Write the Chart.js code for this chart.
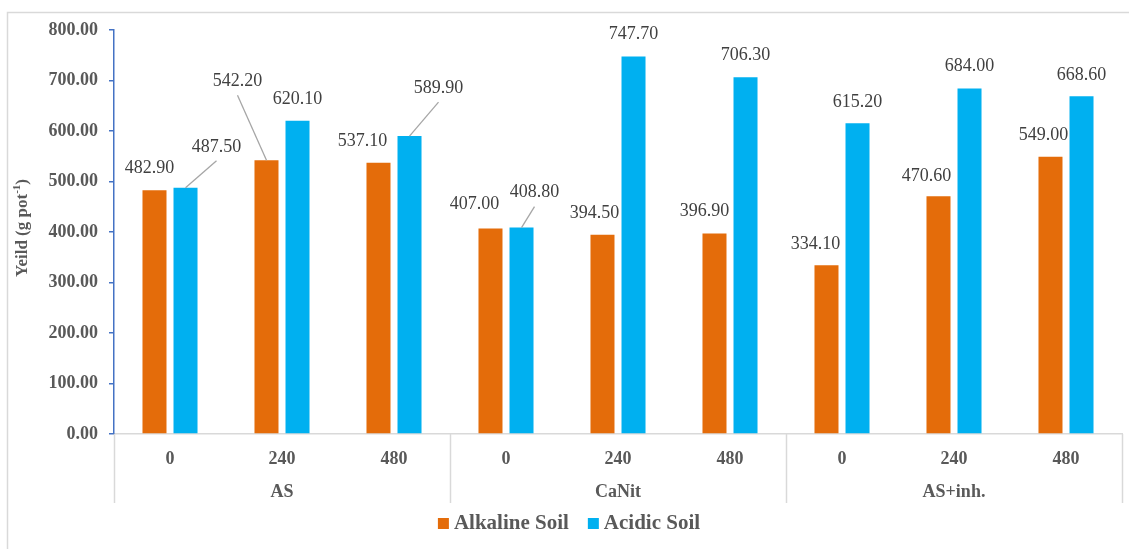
<!DOCTYPE html>
<html>
<head>
<meta charset="utf-8">
<script src="https://cdn.jsdelivr.net/npm/chart.js@4.4.1/dist/chart.umd.min.js"></script>
<style>
  body { margin: 0; background: #fff; }
  #wrap { width: 1129px; height: 549px; }
</style>
</head>
<body>
<div id="wrap"><canvas id="yieldChart"></canvas></div>
<script>
// data
const groups = ['AS', 'CaNit', 'AS+inh.'];
const doses = ['0', '240', '480'];
const alkalineSoil = [482.9, 542.2, 537.1, 407.0, 394.5, 396.9, 334.1, 470.6, 549.0];
const acidicSoil = [487.5, 620.1, 589.9, 408.8, 747.7, 706.3, 615.2, 684.0, 668.6];
const yTicks = [0, 100, 200, 300, 400, 500, 600, 700, 800];

const seriesNames = ['Alkaline Soil', 'Acidic Soil'];
const seriesColors = ['#E46C0A', '#00B0F0'];

// label placement (px offset of label centre from bar top), leader lines
const labelOffsets = [
    [[-5, -22], [-29, -79], [-16, -21], [-16, -24], [-8, -22], [-10, -22], [-11, -21], [-12, -20], [-7, -21]],
    [[31, -41], [0, -22], [29, -48], [13, -35], [0, -22], [0, -22], [0, -21], [0, -22], [0, -21]]
];
const leaders = [[1], [0, 2, 3]];

const serif = "'Liberation Serif', 'Times New Roman', serif";
const categories = groups.flatMap(() => doses);

const extras = {
    id: 'extras',
    beforeDraw(chart) {
        const ctx = chart.ctx;
        ctx.save();
        ctx.strokeStyle = '#D9D9D9';
        ctx.lineWidth = 1.5;
        ctx.strokeRect(7.5, 12.5, 1140, 600);
        ctx.restore();
    },
    afterDraw(chart) {
        const ctx = chart.ctx;
        const x = chart.scales.x;
        const area = chart.chartArea;
        ctx.save();

        // group separators + group names
        const per = doses.length;
        const step = (area.right - area.left) / groups.length;
        ctx.strokeStyle = '#D9D9D9';
        ctx.lineWidth = 1.5;
        for (let i = 0; i <= groups.length; i++) {
            const px = Math.round(area.left + step * i) + 0.5;
            ctx.beginPath();
            ctx.moveTo(px, area.bottom);
            ctx.lineTo(px, area.bottom + 69);
            ctx.stroke();
        }
        ctx.fillStyle = '#595959';
        ctx.font = 'bold 18px ' + serif;
        ctx.textAlign = 'center';
        ctx.textBaseline = 'middle';
        groups.forEach((g, i) => {
            ctx.fillText(g, x.getPixelForValue(i * per + 1), area.bottom + 58);
        });

        // value labels
        ctx.font = '18px ' + serif;
        chart.data.datasets.forEach((ds, di) => {
            const meta = chart.getDatasetMeta(di);
            meta.data.forEach((bar, i) => {
                const [dx, dy] = labelOffsets[di][i];
                const lx = bar.x + dx, ly = bar.y + dy;
                if (leaders[di].includes(i)) {
                    ctx.strokeStyle = '#A6A6A6';
                    ctx.lineWidth = 1.3;
                    ctx.beginPath();
                    ctx.moveTo(bar.x, bar.y);
                    ctx.lineTo(lx, ly + 14);
                    ctx.stroke();
                }
                ctx.fillStyle = '#404040';
                ctx.fillText(ds.data[i].toFixed(2), lx, ly);
            });
        });

        // y title with superscript
        ctx.translate(23, (area.top + area.bottom) / 2 - 4);
        ctx.rotate(-Math.PI / 2);
        ctx.fillStyle = '#595959';
        const big = 'bold 17px ' + serif, small = 'bold 11px ' + serif;
        const parts = [['Yeild (g pot', big, 0], ['-1', small, -6], [')', big, 0]];
        let total = 0;
        parts.forEach(p => { ctx.font = p[1]; total += ctx.measureText(p[0]).width; });
        let cx = -total / 2;
        ctx.textAlign = 'left';
        parts.forEach(p => {
            ctx.font = p[1];
            ctx.fillText(p[0], cx, p[2]);
            cx += ctx.measureText(p[0]).width;
        });
        ctx.restore();

        // legend
        ctx.save();
        ctx.font = 'bold 21px ' + serif;
        ctx.textBaseline = 'middle';
        ctx.textAlign = 'left';
        const widths = chart.data.datasets.map(d => ctx.measureText(d.label).width);
        const itemW = widths.map(w => 11 + 5 + w);
        const fullW = itemW[0] + 19 + itemW[1];
        let lx = 569 - fullW / 2;
        const ly = 524;
        chart.data.datasets.forEach((d, i) => {
            ctx.fillStyle = d.backgroundColor;
            ctx.fillRect(lx, ly - 6, 11, 11);
            ctx.fillStyle = '#595959';
            ctx.fillText(d.label, lx + 16, ly);
            lx += itemW[i] + 19;
        });
        ctx.restore();
    }
};

new Chart(document.getElementById('yieldChart'), {
    type: 'bar',
    data: {
        labels: categories,
        datasets: [
            { label: seriesNames[0], data: alkalineSoil, backgroundColor: seriesColors[0] },
            { label: seriesNames[1], data: acidicSoil, backgroundColor: seriesColors[1] }
        ]
    },
    options: {
        responsive: true,
        maintainAspectRatio: false,
        animation: false,
        devicePixelRatio: 1,
        categoryPercentage: 0.554,
        barPercentage: 0.774,
        layout: { padding: { left: 0, right: 7, top: 30, bottom: 45 } },
        plugins: {
            legend: { display: false },
            tooltip: { enabled: false }
        },
        scales: {
            x: {
                grid: { display: false },
                border: { display: true, color: '#D9D9D9', width: 1.5 },
                ticks: {
                    color: '#595959',
                    font: { family: serif, size: 18, weight: 'bold' },
                    padding: 7,
                    maxRotation: 0
                },
                afterFit(scale) { scale.height = 70; }
            },
            y: {
                min: 0,
                max: 800,
                afterBuildTicks(scale) { scale.ticks = yTicks.map(v => ({ value: v })); },
                grid: { drawOnChartArea: false, color: '#4472C4', tickLength: 5, lineWidth: 1.5 },
                border: { color: '#4472C4', width: 1.5 },
                ticks: {
                    color: '#595959',
                    font: { family: serif, size: 18, weight: 'bold' },
                    padding: 11,
                    callback: v => Number(v).toFixed(2)
                },
                afterFit(scale) { scale.width = 114; }
            }
        }
    },
    plugins: [extras]
});
</script>
</body>
</html>
